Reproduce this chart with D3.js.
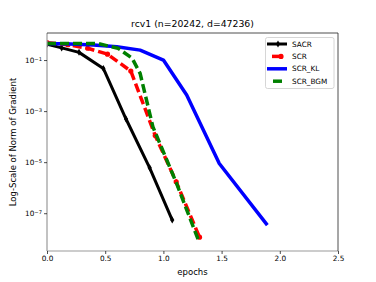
<!DOCTYPE html>
<html><head><meta charset="utf-8">
<script src="https://cdn.jsdelivr.net/npm/d3@7"></script>
<style>body{margin:0;background:#fff}svg{display:block;font-family:"DejaVu Sans",sans-serif}</style>
</head><body>
<script>
const title = "rcv1 (n=20242, d=47236)";
const xLabel = "epochs";
const yLabel = "Log-Scale of Norm of Gradient";
const xTicks = [0, 0.5, 1.0, 1.5, 2.0, 2.5];
const yTicks = [1e-1, 1e-3, 1e-5, 1e-7];
const yTickExp = ["−1", "−3", "−5", "−7"];
const seriesNames = ["SACR", "SCR", "SCR_KL", "SCR_BGM"];
const sacrX = [0, 0.126, 0.275, 0.484, 0.679, 0.882, 1.076];
const sacrY = [0.42, 0.30, 0.20, 0.047, 4.9e-4, 6e-6, 5.4e-8];
const scrX = [0, 0.18, 0.35, 0.52, 0.72, 0.93, 1.11, 1.31];
const scrY = [0.48, 0.40, 0.29, 0.17, 0.037, 1.1e-4, 1.7e-6, 1.15e-8];
const klX = [0, 0.2, 0.4, 0.6, 0.8, 1.0, 1.2, 1.48, 1.893];
const klY = [0.45, 0.43, 0.39, 0.33, 0.245, 0.1, 4.3e-3, 8.9e-6, 3.4e-8];
const bgmX = [0, 0.25, 0.44, 0.61, 0.73, 0.80, 0.91, 1.11, 1.30];
const bgmY = [0.45, 0.45, 0.44, 0.29, 0.12, 0.03, 2.4e-4, 1.6e-6, 9e-9];

const W = 376, H = 282;
const m = {l: 47, r: 338, t: 33, b: 251};
const svg = d3.select("body").append("svg").attr("width", W).attr("height", H);
const x = d3.scaleLinear().domain([0, 2.5]).range([m.l, m.r]);
const y = d3.scaleLog().domain([Math.pow(10, -8.48), Math.pow(10, 0.06)]).range([m.b, m.t]);

const series = [
  {name: seriesNames[0], xs: sacrX, ys: sacrY, color: "#000", w: 3, dash: null, marker: "d", lx1: 267, lx2: 287},
  {name: seriesNames[1], xs: scrX, ys: scrY, color: "#ff0000", w: 3.5, dash: "9,4", marker: "o", lx1: 272, lx2: 283},
  {name: seriesNames[2], xs: klX, ys: klY, color: "#0000ff", w: 3.5, dash: null, marker: null, lx1: 267, lx2: 287},
  {name: seriesNames[3], xs: bgmX, ys: bgmY, color: "#008000", w: 3.5, dash: "9,4", marker: null, lx1: 273, lx2: 282}
];

svg.append("clipPath").attr("id", "c").append("rect")
  .attr("x", m.l).attr("y", m.t).attr("width", m.r - m.l).attr("height", m.b - m.t);
const g = svg.append("g").attr("clip-path", "url(#c)");
const line = d3.line().x(d => x(d[0])).y(d => y(d[1]));
function diamond(s) { return `M0,${-s}L${s*0.6},0L0,${s}L${-s*0.6},0Z`; }
series.forEach(s => {
  const pts = s.xs.map((v, i) => [v, s.ys[i]]);
  g.append("path").datum(pts).attr("d", line).attr("fill", "none")
    .attr("stroke", s.color).attr("stroke-width", s.w)
    .attr("stroke-dasharray", s.dash).attr("stroke-linejoin", "round");
  if (s.marker === "d") {
    g.selectAll(null).data(pts).enter().append("path")
      .attr("transform", d => `translate(${x(d[0])},${y(d[1])})`)
      .attr("d", diamond(3.5)).attr("fill", s.color);
  } else if (s.marker === "o") {
    g.selectAll(null).data(pts).enter().append("circle")
      .attr("cx", d => x(d[0])).attr("cy", d => y(d[1])).attr("r", 2.6).attr("fill", s.color);
  }
});

// spines
svg.append("line").attr("x1", m.l).attr("x2", m.l).attr("y1", m.t).attr("y2", m.b).attr("stroke", "#999").attr("stroke-width", 1.2);
svg.append("line").attr("x1", m.l).attr("x2", m.r).attr("y1", m.b).attr("y2", m.b).attr("stroke", "#999").attr("stroke-width", 1.2);
svg.append("line").attr("x1", m.r).attr("x2", m.r).attr("y1", m.t).attr("y2", m.b).attr("stroke", "#222").attr("stroke-width", 0.8);
svg.append("line").attr("x1", m.l).attr("x2", m.r).attr("y1", m.t).attr("y2", m.t).attr("stroke", "#222").attr("stroke-width", 0.8);

// x axis
const xa = svg.append("g").attr("transform", `translate(0,${m.b})`)
  .call(d3.axisBottom(x).tickValues(xTicks).tickFormat(d3.format(".1f")).tickSize(3).tickPadding(2));
xa.select(".domain").remove();
xa.selectAll("text").attr("font-size", 7.3).attr("fill", "#000").attr("font-family", "DejaVu Sans");
xa.selectAll("line").attr("stroke", "#000").attr("stroke-width", 0.7);

// y axis
const ya = svg.append("g").attr("transform", `translate(${m.l},0)`)
  .call(d3.axisLeft(y).tickValues(yTicks).tickFormat("").tickSize(3));
ya.select(".domain").remove();
ya.selectAll("line").attr("stroke", "#000").attr("stroke-width", 0.7);
ya.selectAll(".tick").each(function(d, i) {
  const t = d3.select(this).append("text").attr("x", -5).attr("dy", "0.32em")
    .attr("text-anchor", "end").attr("fill", "#000").attr("font-size", 7.3).attr("font-family", "DejaVu Sans");
  t.append("tspan").text("10");
  t.append("tspan").attr("dy", "-0.45em").attr("font-size", 5.2).text(yTickExp[i]);
});

svg.append("text").attr("x", (m.l + m.r) / 2).attr("y", 27).attr("text-anchor", "middle")
  .attr("font-size", 9.3).text(title);
svg.append("text").attr("x", (m.l + m.r) / 2).attr("y", 275).attr("text-anchor", "middle")
  .attr("font-size", 8.5).text(xLabel);
svg.append("text").attr("transform", `translate(16,${(m.t + m.b) / 2}) rotate(-90)`)
  .attr("text-anchor", "middle").attr("font-size", 8.5).text(yLabel);

// legend
const lg = svg.append("g");
lg.append("rect").attr("x", 265.5).attr("y", 37.5).attr("width", 68.5).attr("height", 51)
  .attr("fill", "#fff").attr("fill-opacity", 0.8).attr("stroke", "#ccc").attr("stroke-width", 0.8).attr("rx", 2);
series.forEach((s, i) => {
  const yy = 44 + i * 12.4;
  lg.append("line").attr("x1", s.lx1).attr("x2", s.lx2).attr("y1", yy).attr("y2", yy)
    .attr("stroke", s.color).attr("stroke-width", s.w);
  if (s.marker === "d") lg.append("path").attr("transform", `translate(278,${yy})`).attr("d", diamond(3.5)).attr("fill", s.color);
  if (s.marker === "o") lg.append("circle").attr("cx", 281).attr("cy", yy).attr("r", 2.6).attr("fill", s.color);
  lg.append("text").attr("x", 292).attr("y", yy).attr("dy", "0.35em").attr("font-size", 7.3).text(s.name);
});
</script>
</body></html>
